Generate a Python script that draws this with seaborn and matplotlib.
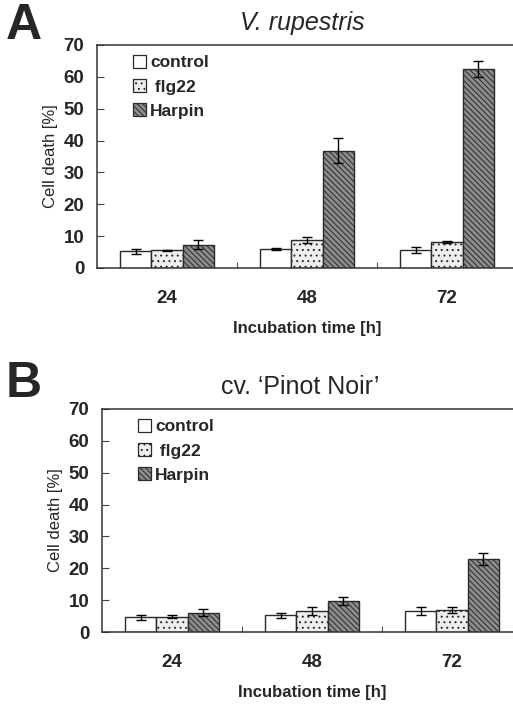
import seaborn as sns
import pandas as pd
import matplotlib.pyplot as plt
from matplotlib.patches import Patch
from matplotlib.ticker import FixedLocator

# data
times = ["24", "48", "72"]
treatments = ["control", "flg22", "Harpin"]

rup_control = [5.2, 6.1, 5.7]
rup_flg22 = [5.5, 8.7, 8.2]
rup_harpin = [7.3, 36.8, 62.5]
rup_control_err = [0.7, 0.3, 0.9]
rup_flg22_err = [0.3, 1.0, 0.3]
rup_harpin_err = [1.4, 3.9, 2.6]

pn_control = [4.6, 5.3, 6.6]
pn_flg22 = [4.8, 6.6, 7.0]
pn_harpin = [6.0, 9.8, 22.9]
pn_control_err = [0.7, 0.8, 1.4]
pn_flg22_err = [0.4, 1.3, 1.0]
pn_harpin_err = [1.1, 1.2, 2.0]

yticks = [0, 10, 20, 30, 40, 50, 60, 70]

sns.set_style("ticks")
plt.rcParams["font.family"] = ["Liberation Sans", "DejaVu Sans"]
plt.rcParams["hatch.linewidth"] = 0.7

styles = {
    "control": dict(facecolor="white", hatch=""),
    "flg22": dict(facecolor="#eeeeee", hatch="..."),
    "Harpin": dict(facecolor="#8c8c8c", hatch="\\\\\\\\\\\\"),
}
edge = "#2a2a2a"


def make_df(c, f, h):
    rows = []
    for name, vals in zip(treatments, [c, f, h]):
        for t, v in zip(times, vals):
            rows.append({"time": t, "treatment": name, "death": v})
    return pd.DataFrame(rows)


def draw_panel(ax, df, errs):
    sns.barplot(data=df, x="time", y="death", hue="treatment",
                order=times, hue_order=treatments, width=0.67,
                errorbar=None, ax=ax, legend=False,
                palette=["white", "white", "white"])
    for cont, name, err in zip(ax.containers, treatments, errs):
        st = styles[name]
        xs, ys = [], []
        for bar in cont:
            bar.set_facecolor(st["facecolor"])
            bar.set_hatch(st["hatch"])
            bar.set_edgecolor(edge)
            bar.set_linewidth(1.0)
            xs.append(bar.get_x() + bar.get_width() / 2)
            ys.append(bar.get_height())
        ax.errorbar(xs, ys, yerr=err, fmt="none", ecolor="black",
                    elinewidth=1.0, capsize=3.5, capthick=1.0, zorder=5)

    ax.set_xlim(-0.5, 2.5)
    ax.set_ylim(0, 70)
    ax.set_yticks(yticks)
    ax.xaxis.set_minor_locator(FixedLocator([0.5, 1.5]))
    ax.tick_params(axis="x", which="major", length=0, pad=16, labelsize=13.5)
    ax.tick_params(axis="x", which="minor", direction="in", length=4,
                   width=0.8, color="#555555")
    ax.tick_params(axis="y", direction="in", length=5, width=0.8,
                   pad=9, labelsize=13.5, color="#444444")
    for lab in ax.get_xticklabels() + ax.get_yticklabels():
        lab.set_fontweight("bold")
    for sp in ax.spines.values():
        sp.set_linewidth(1.1)
        sp.set_color("#333333")
    ax.set_ylabel("Cell death [%]", fontsize=12, labelpad=4)
    ax.set_xlabel("Incubation time [h]", fontsize=12, fontweight="bold",
                  labelpad=10)

    handles = [Patch(facecolor=styles[n]["facecolor"], hatch=styles[n]["hatch"],
                     edgecolor=edge, linewidth=0.9) for n in treatments]
    leg = ax.legend(handles, ["control", " flg22", "Harpin"],
                    loc="upper left", bbox_to_anchor=(0.085, 0.955),
                    frameon=False, borderaxespad=0, borderpad=0,
                    handlelength=0.75, handleheight=0.75, handletextpad=0.25,
                    labelspacing=0.5, prop={"weight": "bold", "size": 12.5})
    return leg


fig = plt.figure(figsize=(5.13, 7.06), dpi=100)

ax_a = fig.add_axes([0.189, 0.6204, 0.8187, 0.3159])
draw_panel(ax_a, make_df(rup_control, rup_flg22, rup_harpin),
           [rup_control_err, rup_flg22_err, rup_harpin_err])

ax_b = fig.add_axes([0.1988, 0.1048, 0.8187, 0.3159])
draw_panel(ax_b, make_df(pn_control, pn_flg22, pn_harpin),
           [pn_control_err, pn_flg22_err, pn_harpin_err])

fig.text(302 / 513, 1 - 23 / 706, "V. rupestris", ha="center", va="center",
         fontsize=18, fontstyle="italic")
fig.text(300 / 513, 1 - 387 / 706, "cv. \u2018Pinot Noir\u2019", ha="center",
         va="center", fontsize=18)
fig.text(24 / 513, 1 - 26 / 706, "A", ha="center", va="center",
         fontsize=36, fontweight="bold")
fig.text(24 / 513, 1 - 384 / 706, "B", ha="center", va="center",
         fontsize=36, fontweight="bold")

fig.savefig("out.png", dpi=100)
